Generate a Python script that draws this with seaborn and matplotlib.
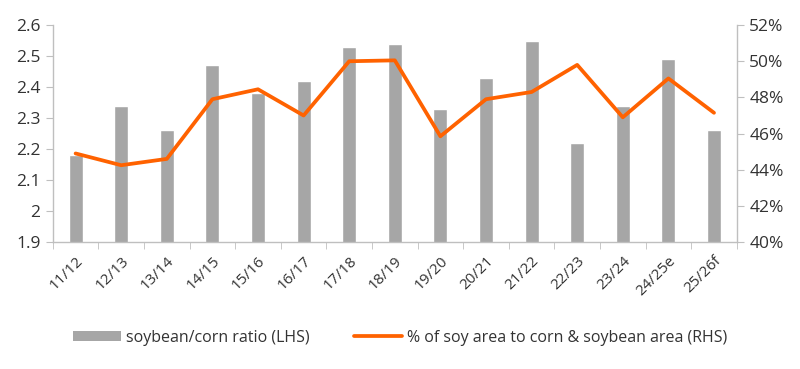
import numpy as np
import pandas as pd
import seaborn as sns
from matplotlib import pyplot as plt
from matplotlib.patches import Patch
from matplotlib.lines import Line2D
from matplotlib.ticker import FuncFormatter, FixedLocator

seasons = ["11/12", "12/13", "13/14", "14/15", "15/16", "16/17", "17/18", "18/19",
           "19/20", "20/21", "21/22", "22/23", "23/24", "24/25e", "25/26f"]
ratio = [2.18, 2.34, 2.26, 2.47, 2.38, 2.42, 2.53, 2.54,
         2.33, 2.43, 2.55, 2.22, 2.34, 2.49, 2.26]
soy_share = [44.9, 44.25, 44.6, 47.9, 48.45, 47.0, 50.0, 50.05,
             45.85, 47.9, 48.3, 49.8, 46.9, 49.05, 47.15]

BAR_COLOR = "#a6a6a6"
LINE_COLOR = "#ff6200"
TEXT_COLOR = "#333333"
AXIS_COLOR = "#bfbfbf"

sns.set_style("white")
plt.rcParams['font.family'] = ['Open Sans', 'DejaVu Sans']

df = pd.DataFrame({"season": seasons, "ratio": ratio, "share": soy_share})
df["pos"] = np.arange(len(df))

fig = plt.figure(figsize=(8, 3.69), dpi=100)
ax = fig.add_axes([0.066, 0.344, 0.855, 0.588])

sns.barplot(data=df, x="season", y="ratio", color=BAR_COLOR, width=0.31,
            saturation=1, ax=ax)
ax.set_ylim(1.9, 2.6)
ax.set_yticks(np.arange(1.9, 2.61, 0.1))
ax.yaxis.set_major_formatter(FuncFormatter(lambda v, p: f"{v:.1f}".rstrip("0").rstrip(".")))
ax.set_xlim(-0.5, len(seasons) - 0.5)

ax2 = ax.twinx()
sns.lineplot(data=df, x="pos", y="share", color=LINE_COLOR, linewidth=2.7, ax=ax2)
ax2.set_ylim(40, 52)
ax2.set_yticks(np.arange(40, 53, 2))
ax2.yaxis.set_major_formatter(FuncFormatter(lambda v, p: f"{v:.0f}%"))
ax2.set_xlim(-0.5, len(seasons) - 0.5)

ax.set_xlabel("")
ax.set_ylabel("")
ax2.set_ylabel("")
ax2.set_xlabel("")

for a in (ax, ax2):
    for s in a.spines.values():
        s.set_visible(False)
ax.spines["left"].set_visible(True)
ax.spines["bottom"].set_visible(True)
ax2.spines["right"].set_visible(True)
for s in (ax.spines["left"], ax.spines["bottom"], ax2.spines["right"]):
    s.set_color(AXIS_COLOR)
    s.set_linewidth(1)

ax.tick_params(axis="y", length=5, color=AXIS_COLOR, labelsize=12.5, labelcolor=TEXT_COLOR, left=True, pad=4)
ax2.tick_params(axis="y", length=5, color=AXIS_COLOR, labelsize=12.5, labelcolor=TEXT_COLOR, right=True, pad=4)

ax.set_xticks(np.arange(len(seasons)))
ax.set_xticklabels(seasons, rotation=45, ha="right", rotation_mode="anchor")
ax.tick_params(axis="x", which="major", length=0, labelsize=11, labelcolor=TEXT_COLOR, pad=8)
ax.xaxis.set_minor_locator(FixedLocator(np.arange(-0.5, len(seasons), 1)))
ax.tick_params(axis="x", which="minor", length=5, color=AXIS_COLOR, bottom=True)

handles = [Patch(facecolor=BAR_COLOR, edgecolor="none"),
           Line2D([0], [0], color=LINE_COLOR, linewidth=2.7)]
labels = ["soybean/corn ratio (LHS)", "% of soy area to corn & soybean area (RHS)"]
fig.legend(handles, labels, loc="center", bbox_to_anchor=(0.5, 0.085), ncol=2,
           frameon=False, fontsize=11.5, labelcolor=TEXT_COLOR,
           handlelength=3.0, handleheight=0.6, columnspacing=2.8, handletextpad=0.3)

fig.savefig("out.png", dpi=100)
